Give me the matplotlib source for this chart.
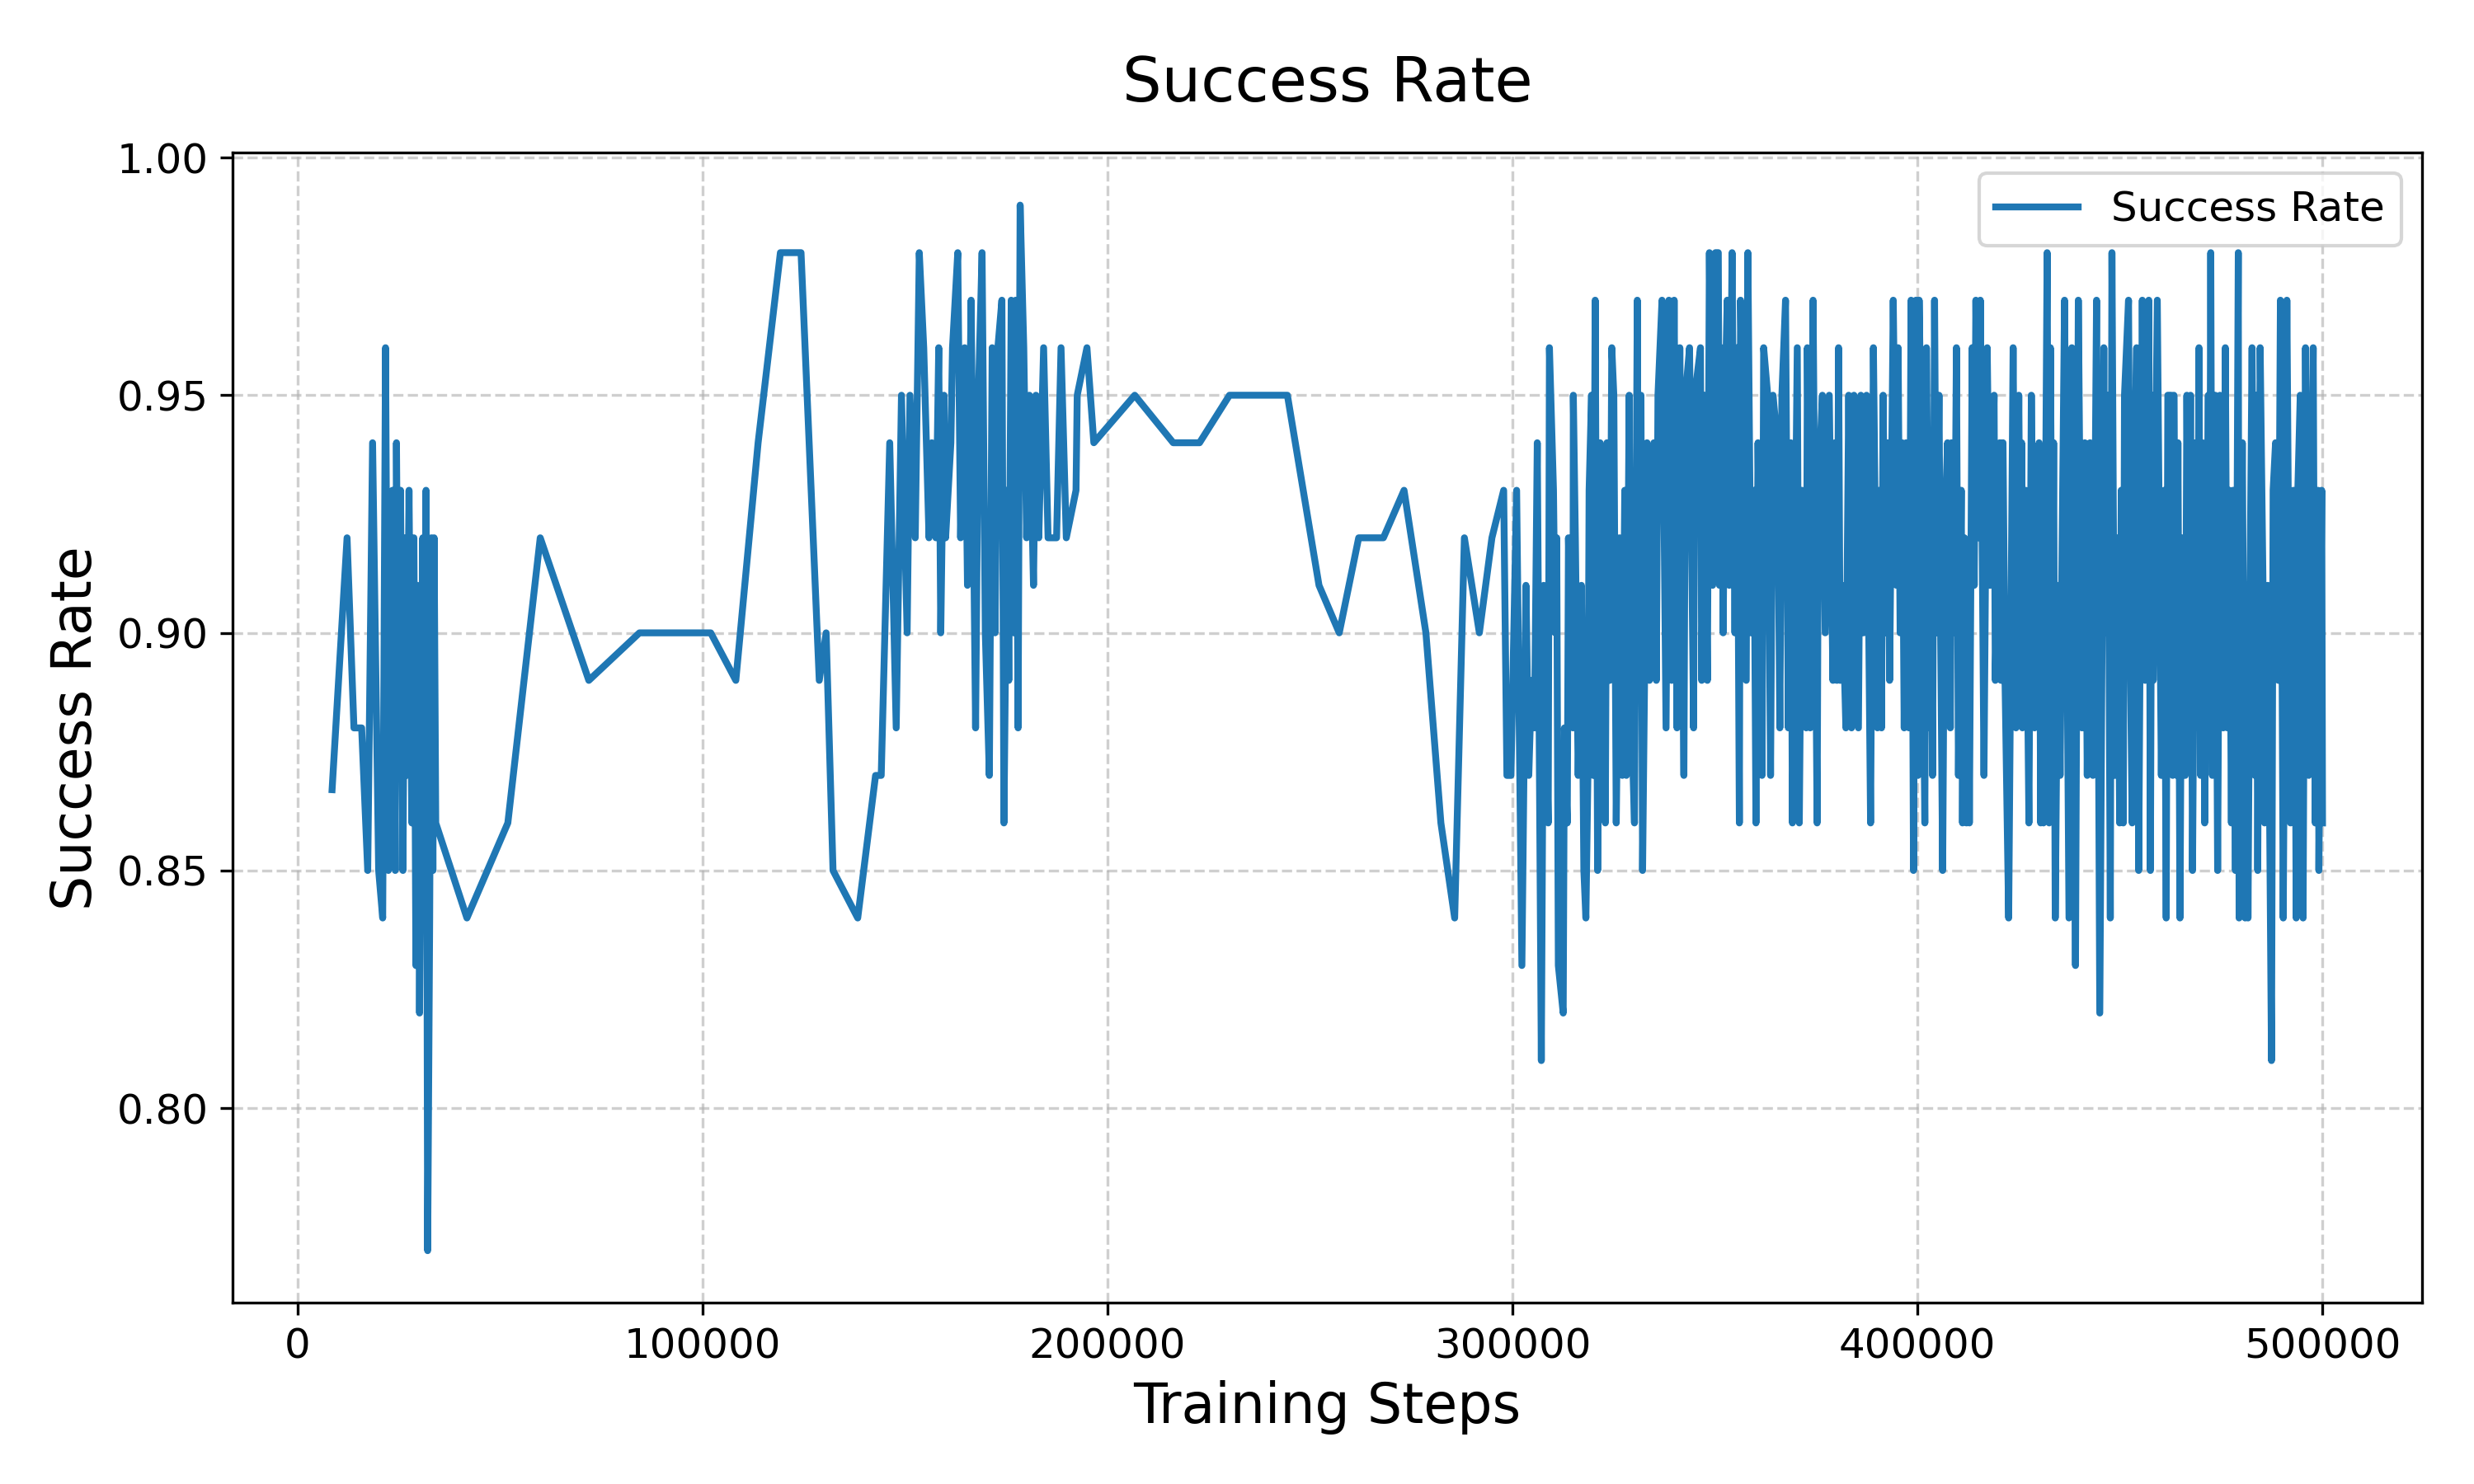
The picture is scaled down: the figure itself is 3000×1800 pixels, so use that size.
import matplotlib
matplotlib.use("Agg")
import matplotlib.pyplot as plt

# evaluation steps / success rate
early_steps = [
    8500, 12200, 13900, 15800, 17300, 18500, 20000, 21000, 21700, 22400,
    23400, 24100, 24400, 24900, 25400, 26000, 26500, 26900, 27500, 28200,
    28700, 29200, 29600, 30100, 30900, 31200, 31700, 32100, 32600, 33000,
    33400, 33700, 34100, 41800, 51900, 59900, 71900, 84400, 102000, 108200,
    113700, 119200, 124300, 128800, 130500, 132200, 138300, 142700, 144100,
]
early_rate = [
    0.867, 0.92, 0.88, 0.88, 0.85, 0.94, 0.85, 0.84, 0.96, 0.85,
    0.93, 0.85, 0.94, 0.88, 0.93, 0.85, 0.92, 0.87, 0.93, 0.86,
    0.92, 0.83, 0.91, 0.82, 0.92, 0.84, 0.93, 0.77, 0.84, 0.92,
    0.85, 0.92, 0.86, 0.84, 0.86, 0.92, 0.89, 0.90, 0.90, 0.89,
    0.94, 0.98, 0.98, 0.89, 0.90, 0.85, 0.84, 0.87, 0.87,
]

mid_steps = [
    146200, 147800, 149100, 150500, 151200, 152500, 153500, 154600, 155900, 156600,
    157600, 158300, 158800, 159600, 160000, 161300, 161700, 163000, 163700, 164700,
    165400, 166300, 167400, 168100, 169000, 169800, 170800, 171500, 172200, 172900,
    173900, 174400, 175200, 175600, 176200, 176900, 177300, 177900, 178400, 179300,
    180000, 180700, 181700, 182300, 183000, 184200, 185300, 187400, 188500, 189800,
    192200, 192500, 194900, 196600, 206700, 216200, 222700, 230100, 244400, 252200,
    257200, 262000, 268100, 273200, 278600, 282300, 285700, 288100, 291800, 294900,
    297800, 298600,
]
mid_rate = [
    0.94, 0.88, 0.95, 0.90, 0.95, 0.92, 0.98, 0.96, 0.92, 0.94,
    0.92, 0.96, 0.90, 0.95, 0.92, 0.94, 0.96, 0.98, 0.92, 0.96,
    0.91, 0.97, 0.88, 0.95, 0.98, 0.90, 0.87, 0.96, 0.90, 0.96,
    0.97, 0.86, 0.93, 0.89, 0.97, 0.90, 0.97, 0.88, 0.99, 0.96,
    0.92, 0.95, 0.91, 0.95, 0.92, 0.96, 0.92, 0.92, 0.96, 0.92,
    0.93, 0.95, 0.96, 0.94, 0.95, 0.94, 0.94, 0.95, 0.95, 0.91,
    0.90, 0.92, 0.92, 0.93, 0.90, 0.86, 0.84, 0.92, 0.90, 0.92,
    0.93, 0.87,
]

late_steps = [
    299600, 301000, 302300, 303300, 304000, 304700, 305400, 306100, 307100, 307700,
    308800, 309100, 310100, 310500, 310900, 311300, 312500, 312800, 313500, 313800,
    314900, 315000, 315500, 316200, 317000, 317600, 318100, 318600, 318900, 319500,
    319900, 320400, 321000, 321600, 322300, 322900, 323300, 324000, 324500, 325000,
    325600, 326400, 327100, 327700, 328100, 328800, 329100, 330100, 330800, 331100,
    331700, 332100, 333200, 333800, 334900, 335500, 335900, 336900, 337900, 338600,
    339300, 339900, 340600, 341300, 342300, 342700, 343700, 344700, 345000, 346400,
    346700, 347400, 348100, 348600, 349400, 350100, 350800, 351100, 351600, 352000,
    352500, 353000, 353500, 354200, 354900, 355400, 356000, 356300, 357700, 358100,
    358900, 359600, 360100, 360600, 361600, 362000, 363000, 363700, 364300, 365400,
    366000, 366500, 367400, 368100, 368700, 369100, 370300, 370800, 371500, 372500,
    372800, 373500, 374200, 375200, 375500, 376500, 377200, 378200, 379100, 379600,
    380100, 380500, 380900, 381400, 382300, 383000, 383700, 384300, 385400, 386000,
    386700, 387400, 388400, 389100, 390100, 390600, 391100, 391500, 392100, 392700,
    393100, 394000, 394800, 395200, 395700, 396200, 396700, 397200, 397900, 398400,
    399000, 399600, 400100, 400400, 400900, 401800, 402200, 403000, 403300, 403700,
    404200, 404700, 405300, 405700, 406200, 406700, 407400, 408100, 408400, 409100,
    409600, 410100, 410800, 411100, 411600, 412100, 412500, 412800, 413500, 414000,
    414400, 415000, 415500, 416400, 417200, 417900, 418900, 419200, 420300, 420600,
    421100, 421600, 422500, 423600, 424300, 425000, 425500, 425700, 425900, 426700,
    427500, 428100, 428900, 430000, 430400, 430800, 431100, 432000, 432500, 432800,
    433300, 433600, 434000, 434700, 435200, 435600, 436300, 437400, 438100, 439000,
    439700, 440600, 441300, 441900, 442600, 443300, 444200, 445000, 446000, 446400,
    447000, 447600, 448000, 448700, 449400, 449900, 450300, 450800, 451100, 452100,
    452600, 453000, 453500, 454100, 454600, 455500, 456200, 457100, 457500, 457900,
    458200, 459200, 460200, 460900, 461400, 461800, 462600, 463000, 463300, 464000,
    464300, 464800, 465300, 466100, 466500, 467000, 467400, 467900, 468600, 469100,
    469500, 469900, 470400, 470900, 471800, 472100, 472400, 472800, 473500, 474100,
    474700, 475500, 476000, 476500, 477000, 477500, 477900, 478500, 479200, 479400,
    480200, 480900, 481300, 481600, 482100, 482600, 483300, 483600, 484000, 484600,
    485300, 485700, 486500, 487400, 487800, 488400, 489100, 489600, 490300, 491200,
    492100, 492800, 493100, 493500, 493900, 494500, 495200, 495800, 496600, 497700,
    498200, 498900, 499100, 499800, 500000,
]
late_rate = [
    0.87, 0.93, 0.83, 0.91, 0.87, 0.89, 0.88, 0.94, 0.81, 0.91,
    0.86, 0.96, 0.93, 0.90, 0.92, 0.83, 0.82, 0.88, 0.86, 0.92,
    0.88, 0.95, 0.92, 0.87, 0.91, 0.85, 0.84, 0.87, 0.93, 0.95,
    0.87, 0.97, 0.85, 0.94, 0.89, 0.86, 0.94, 0.89, 0.96, 0.95,
    0.86, 0.92, 0.87, 0.93, 0.87, 0.95, 0.89, 0.86, 0.97, 0.90,
    0.95, 0.85, 0.94, 0.89, 0.94, 0.89, 0.95, 0.97, 0.88, 0.97,
    0.89, 0.97, 0.88, 0.96, 0.87, 0.95, 0.96, 0.88, 0.95, 0.96,
    0.89, 0.95, 0.89, 0.98, 0.91, 0.98, 0.98, 0.91, 0.96, 0.90,
    0.95, 0.97, 0.91, 0.98, 0.90, 0.96, 0.86, 0.97, 0.89, 0.98,
    0.90, 0.93, 0.86, 0.94, 0.87, 0.96, 0.95, 0.87, 0.95, 0.94,
    0.88, 0.95, 0.97, 0.88, 0.94, 0.86, 0.96, 0.86, 0.93, 0.88,
    0.96, 0.88, 0.97, 0.86, 0.93, 0.95, 0.90, 0.95, 0.89, 0.94,
    0.89, 0.96, 0.89, 0.91, 0.88, 0.95, 0.88, 0.95, 0.88, 0.95,
    0.90, 0.95, 0.86, 0.96, 0.88, 0.93, 0.88, 0.95, 0.90, 0.94,
    0.89, 0.97, 0.91, 0.96, 0.90, 0.94, 0.88, 0.94, 0.88, 0.97,
    0.85, 0.97, 0.87, 0.97, 0.94, 0.86, 0.96, 0.88, 0.92, 0.87,
    0.97, 0.90, 0.95, 0.90, 0.85, 0.92, 0.94, 0.88, 0.94, 0.90,
    0.96, 0.87, 0.93, 0.86, 0.92, 0.86, 0.91, 0.86, 0.96, 0.91,
    0.97, 0.92, 0.97, 0.87, 0.96, 0.91, 0.95, 0.89, 0.94, 0.89,
    0.94, 0.89, 0.84, 0.96, 0.88, 0.95, 0.89, 0.94, 0.88, 0.93,
    0.86, 0.95, 0.88, 0.94, 0.86, 0.93, 0.86, 0.98, 0.86, 0.96,
    0.89, 0.94, 0.84, 0.91, 0.87, 0.91, 0.97, 0.84, 0.96, 0.83,
    0.97, 0.88, 0.94, 0.87, 0.94, 0.87, 0.97, 0.82, 0.96, 0.90,
    0.95, 0.84, 0.98, 0.87, 0.92, 0.86, 0.93, 0.86, 0.95, 0.97,
    0.89, 0.86, 0.93, 0.96, 0.85, 0.97, 0.89, 0.97, 0.85, 0.95,
    0.89, 0.97, 0.87, 0.93, 0.84, 0.95, 0.95, 0.87, 0.95, 0.87,
    0.94, 0.84, 0.92, 0.87, 0.95, 0.89, 0.95, 0.85, 0.94, 0.88,
    0.96, 0.87, 0.94, 0.86, 0.95, 0.89, 0.98, 0.87, 0.95, 0.85,
    0.95, 0.88, 0.96, 0.88, 0.93, 0.86, 0.93, 0.85, 0.98, 0.84,
    0.94, 0.84, 0.91, 0.84, 0.91, 0.96, 0.87, 0.95, 0.85, 0.96,
    0.91, 0.86, 0.91, 0.81, 0.93, 0.94, 0.89, 0.97, 0.84, 0.97,
    0.86, 0.93, 0.92, 0.84, 0.93, 0.95, 0.84, 0.96, 0.87, 0.96,
    0.86, 0.93, 0.85, 0.93, 0.86,
]

steps = early_steps + mid_steps + late_steps
success_rate = early_rate + mid_rate + late_rate

fig, ax = plt.subplots(figsize=(10, 6), dpi=300)
ax.plot(steps, success_rate, color="tab:blue", linewidth=2, label="Success Rate")

ax.set_title("Success Rate", fontsize=18, pad=15)
ax.set_xlabel("Training Steps", fontsize=16)
ax.set_ylabel("Success Rate", fontsize=16)
ax.tick_params(labelsize=12)
ax.grid(True, linestyle="--", alpha=0.6)
ax.legend(loc="upper right", fontsize=12)

# margins matched to the reference frame
fig.subplots_adjust(left=0.094, right=0.979, top=0.897, bottom=0.122)
fig.savefig("out.png", dpi=300)
